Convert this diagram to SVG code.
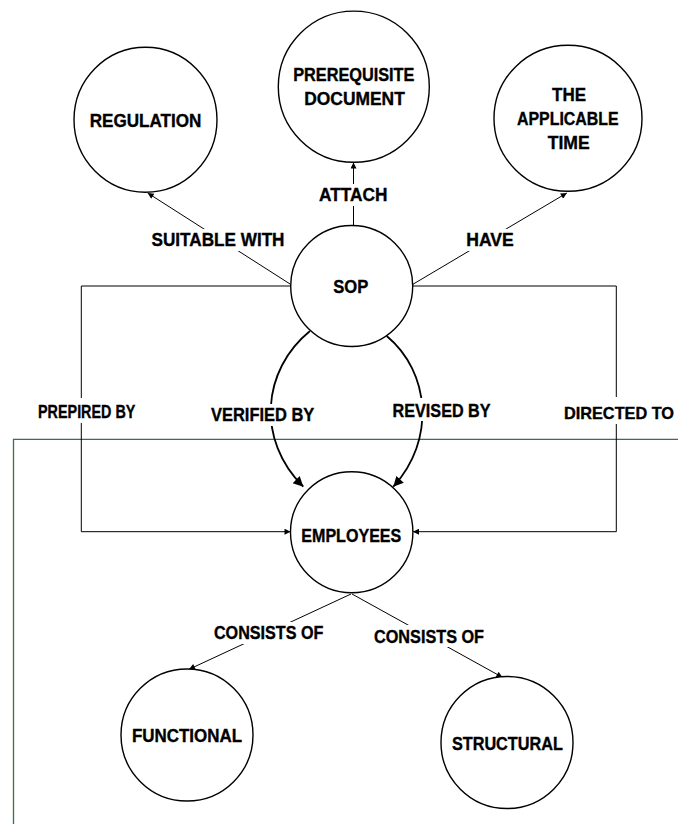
<svg xmlns="http://www.w3.org/2000/svg" width="678" height="824" viewBox="0 0 678 824">
<style>
.node{fill:#fff;stroke:#000;stroke-width:1.4}
.t{font-family:"Liberation Sans",Arial,sans-serif;font-weight:bold;font-size:18px;fill:#000;stroke:#000;stroke-width:0.35;text-anchor:middle}
.ln{fill:none;stroke:#000;stroke-width:1}
.cv{fill:none;stroke:#000;stroke-width:1.8}
.bg{fill:#fff}
</style>
<defs>
<marker id="s" viewBox="0 0 10 10" refX="10" refY="5" markerWidth="8" markerHeight="6" markerUnits="userSpaceOnUse" orient="auto"><path d="M0,0 L10,5 L0,10 z" fill="#000"/></marker>
<marker id="b" viewBox="0 0 10 10" refX="10" refY="5" markerWidth="13" markerHeight="10" markerUnits="userSpaceOnUse" orient="auto"><path d="M0,0 L10,5 L0,10 z" fill="#000"/></marker>
</defs>
<rect width="678" height="824" fill="#fff"/>
<path d="M678,439.3 H13.5 V824" fill="none" stroke="#3d6e4a" stroke-width="1.3"/>
<g id="connectors">
<path class="ln" d="M353.5,226 V162.5" marker-end="url(#s)"/>
<path class="ln" d="M290.5,284.3 L147.7,193" marker-end="url(#s)"/>
<path class="ln" d="M412.9,284.3 L566.8,193" marker-end="url(#s)"/>
<path class="ln" d="M290.5,286 H81.3 V531.7 H290.5" marker-end="url(#s)"/>
<path class="ln" d="M412.9,286 H616.3 V531.7 H413" marker-end="url(#s)"/>
<path class="cv" d="M310,331 C262,370 256,440 303.3,486.7" marker-end="url(#b)"/>
<path class="cv" d="M386.7,336 C430,372 436,440 393.3,486.7" marker-end="url(#b)"/>
<path class="ln" d="M351,594 L189,669.3" marker-end="url(#s)"/>
<path class="ln" d="M352,594 L502.4,677.3" marker-end="url(#s)"/>
</g>
<g id="labels">
<rect class="bg" x="317" y="184" width="73" height="22"/>
<text class="t" x="353.2" y="201" textLength="68.4" lengthAdjust="spacingAndGlyphs">ATTACH</text>
<rect class="bg" x="149" y="229" width="138" height="22"/>
<text class="t" x="218" y="246" textLength="133" lengthAdjust="spacingAndGlyphs">SUITABLE WITH</text>
<rect class="bg" x="463" y="229" width="55" height="22"/>
<text class="t" x="490" y="246" textLength="47.6" lengthAdjust="spacingAndGlyphs">HAVE</text>
<rect class="bg" x="36" y="398" width="102" height="25"/>
<text class="t" x="86.7" y="417.5" textLength="97.3" lengthAdjust="spacingAndGlyphs">PREPIRED BY</text>
<rect class="bg" x="209" y="404" width="108" height="22"/>
<text class="t" x="262.7" y="421" textLength="103.3" lengthAdjust="spacingAndGlyphs">VERIFIED BY</text>
<rect class="bg" x="390" y="398" width="103" height="23"/>
<text class="t" x="441.6" y="416.5" textLength="98" lengthAdjust="spacingAndGlyphs">REVISED BY</text>
<rect class="bg" x="561" y="397" width="117" height="27"/>
<text class="t" x="619" y="419" style="font-size:16.3px">DIRECTED TO</text>
<rect class="bg" x="212" y="622" width="114" height="22"/>
<text class="t" x="268.7" y="639" textLength="109.5" lengthAdjust="spacingAndGlyphs">CONSISTS OF</text>
<rect class="bg" x="372" y="625" width="115" height="22"/>
<text class="t" x="429" y="642.5" textLength="110" lengthAdjust="spacingAndGlyphs">CONSISTS OF</text>
</g>
<g id="regulation">
<ellipse class="node" cx="145.5" cy="119.8" rx="71.5" ry="72.5"/>
<text class="t" x="145.5" y="126.5" textLength="111.7" lengthAdjust="spacingAndGlyphs">REGULATION</text>
</g>
<g id="prerequisite">
<ellipse class="node" cx="353.8" cy="86.7" rx="75.5" ry="75.6"/>
<text class="t" x="353.8" y="80.5" textLength="121.3" lengthAdjust="spacingAndGlyphs">PREREQUISITE</text>
<text class="t" x="354.5" y="104.8" textLength="100.6" lengthAdjust="spacingAndGlyphs">DOCUMENT</text>
</g>
<g id="applicable-time">
<ellipse class="node" cx="568" cy="118.3" rx="74" ry="73"/>
<text class="t" x="569" y="100.8" textLength="34" lengthAdjust="spacingAndGlyphs">THE</text>
<text class="t" x="567.8" y="124.8" textLength="101.7" lengthAdjust="spacingAndGlyphs">APPLICABLE</text>
<text class="t" x="568.7" y="149.2" textLength="42" lengthAdjust="spacingAndGlyphs">TIME</text>
</g>
<g id="sop">
<ellipse class="node" cx="351.7" cy="286" rx="61" ry="60.5"/>
<text class="t" x="350.8" y="292.7" textLength="35" lengthAdjust="spacingAndGlyphs">SOP</text>
</g>
<g id="employees">
<ellipse class="node" cx="351.7" cy="532.2" rx="61.2" ry="60.5"/>
<text class="t" x="351.3" y="541.7" textLength="100" lengthAdjust="spacingAndGlyphs">EMPLOYEES</text>
</g>
<g id="functional">
<ellipse class="node" cx="187" cy="735" rx="66" ry="66"/>
<text class="t" x="187" y="742.2" textLength="110" lengthAdjust="spacingAndGlyphs">FUNCTIONAL</text>
</g>
<g id="structural">
<ellipse class="node" cx="507" cy="742.5" rx="66" ry="66"/>
<text class="t" x="507.4" y="749.8" textLength="111" lengthAdjust="spacingAndGlyphs">STRUCTURAL</text>
</g>
</svg>
